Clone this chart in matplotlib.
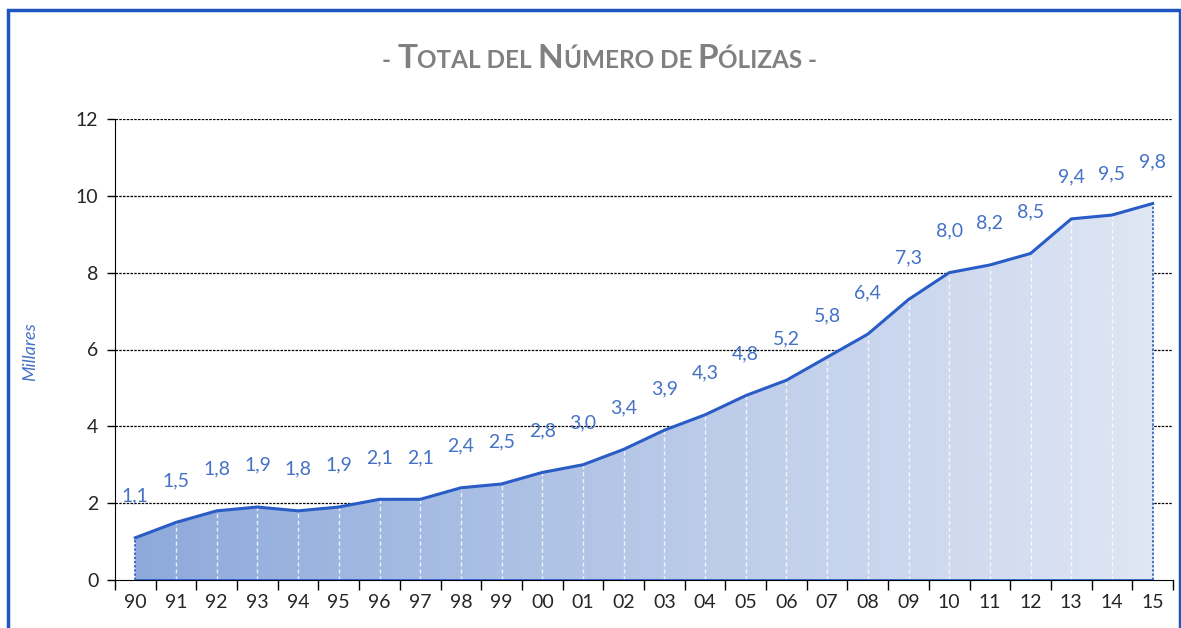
import numpy as np
import matplotlib
matplotlib.use("Agg")
import matplotlib.pyplot as plt
from matplotlib.colors import LinearSegmentedColormap
from matplotlib.patches import Rectangle

years = ["90", "91", "92", "93", "94", "95", "96", "97", "98", "99", "00", "01", "02",
         "03", "04", "05", "06", "07", "08", "09", "10", "11", "12", "13", "14", "15"]
polizas = [1.1, 1.5, 1.8, 1.9, 1.8, 1.9, 2.1, 2.1, 2.4, 2.5, 2.8, 3.0, 3.4,
           3.9, 4.3, 4.8, 5.2, 5.8, 6.4, 7.3, 8.0, 8.2, 8.5, 9.4, 9.5, 9.8]
y_ticks = [0, 2, 4, 6, 8, 10, 12]

plt.rcParams['font.family'] = ['Lato', 'DejaVu Sans']

line_col = "#2a5cc6"
label_col = "#4472c4"
text_col = "#262626"

fig = plt.figure(figsize=(11.81, 6.28), dpi=100)
ax = fig.add_axes([115 / 1181, 1 - 580 / 628, 1058 / 1181, 461 / 628])

x = np.arange(len(years))
y = np.array(polizas)

# gradient fill under the line
poly = ax.fill_between(x, 0, y, facecolor="none", edgecolor="none")
cmap = LinearSegmentedColormap.from_list("g", ["#8eaadb", "#dfe6f4"])
grad = np.linspace(0, 1, 256).reshape(1, -1)
im = ax.imshow(grad, cmap=cmap, extent=[x[0], x[-1], 0, 12], aspect="auto", zorder=2)
im.set_clip_path(poly.get_paths()[0], transform=ax.transData)

# white dashed separators inside the area, blue dotted edges
for xi, yi in zip(x[1:-1], y[1:-1]):
    ax.plot([xi, xi], [0, yi], color="white", lw=1, ls=(0, (3, 2)), zorder=3, alpha=0.8)
for xi, yi in [(x[0], y[0]), (x[-1], y[-1])]:
    ax.plot([xi, xi], [0, yi], color=line_col, lw=1.2, ls=(0, (1.5, 1)), zorder=3)
ax.plot([x[0], x[-1]], [0, 0], color=line_col, lw=2, zorder=4, solid_capstyle="butt")
ax.plot(x, y, color=line_col, lw=2.2, zorder=5, solid_joinstyle="round")

for xi, yi in zip(x, y):
    ax.annotate(f"{yi:.1f}".replace(".", ","), (xi, yi), xytext=(0, 30),
                textcoords="offset points", ha="center", va="center",
                color=label_col, fontsize=14, zorder=6)

# axes styling
ax.set_xlim(-0.5, len(years) - 0.5)
ax.set_ylim(0, 12)
ax.set_yticks(y_ticks)
ax.set_yticklabels([str(v) for v in y_ticks])
ax.set_xticks(np.arange(-0.5, len(years), 1.0))
ax.set_xticklabels([])
ax.set_xticks(x, minor=True)
ax.set_xticklabels(years, minor=True)
ax.tick_params(axis="x", which="major", direction="out", length=7, width=1, color="black")
ax.tick_params(axis="x", which="minor", length=0, pad=10, labelsize=14, labelcolor=text_col)
ax.tick_params(axis="y", direction="out", length=6, width=1, labelsize=14,
               labelcolor=text_col, pad=6)
for s in ["top", "right"]:
    ax.spines[s].set_visible(False)
ax.spines["left"].set_color("black")
ax.spines["bottom"].set_color("black")
for v in y_ticks[1:]:
    ax.axhline(v, color="black", lw=0.9, ls=(0, (2, 1)), zorder=1)

fig.text(30 / 1181, 1 - 352 / 628, "Millares", rotation=90, style="italic",
         color=label_col, fontsize=13, ha="center", va="center")

# title with pseudo small caps
pieces = [("- ", 17.5), ("T", 24), ("OTAL DEL ", 17.5), ("N", 24), ("ÚMERO DE ", 17.5),
          ("P", 24), ("ÓLIZAS -", 17.5)]
renderer = fig.canvas.get_renderer()
texts = []
total = 0
for s, fs in pieces:
    t = fig.text(0, 1 - 68 / 628, s.replace(" ", "\u00a0"), fontsize=fs, fontweight="bold",
                 color="#808080", va="baseline", ha="left")
    w = t.get_window_extent(renderer).width
    texts.append((t, w))
    total += w
xpos = 600 - total / 2
for t, w in texts:
    t.set_x(xpos / 1181)
    xpos += w

# outer frame
fig.patches.append(Rectangle((8 / 1181, -0.1), 1172 / 1181, 1.1 - 10 / 628,
                             transform=fig.transFigure, fill=False,
                             edgecolor="#1f55c0", lw=2.5))

fig.savefig("out.png", dpi=100)
